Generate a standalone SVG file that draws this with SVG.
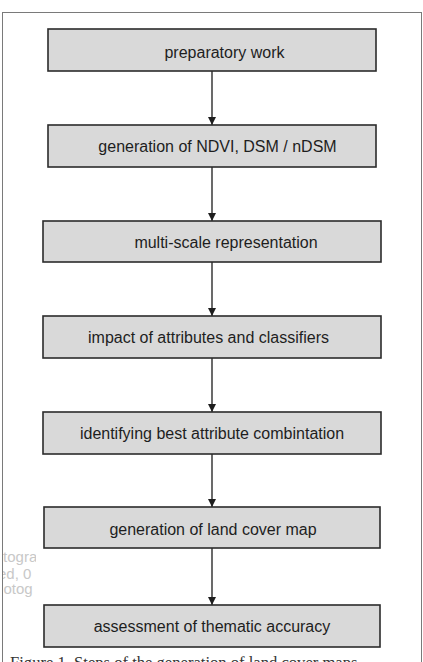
<svg xmlns="http://www.w3.org/2000/svg" width="423" height="662" viewBox="0 0 423 662">
  <style>
    .box { fill: #d9d9d9; stroke: #2b2b2b; stroke-width: 1.6; }
    .lbl { font-family: "Liberation Sans", Arial, sans-serif; font-size: 16px; fill: #1e1e1e; text-anchor: middle; }
    .conn { stroke: #2b2b2b; stroke-width: 1.4; fill: none; marker-end: url(#ah); }
    .wm { font-family: "Liberation Sans", Arial, sans-serif; font-size: 15px; fill: #c8c8c8; }
    .cap { font-family: "Liberation Serif", "Times New Roman", serif; font-size: 16.6px; fill: #333; }
  </style>
  <defs>
    <marker id="ah" viewBox="0 0 10 10" refX="10" refY="5" markerWidth="8" markerHeight="9" markerUnits="userSpaceOnUse" orient="auto">
      <path d="M0,0 L10,5 L0,10 Z" fill="#1e1e1e"/>
    </marker>
    <clipPath id="wmclip"><rect x="2" y="540" width="34" height="70"/></clipPath>
  </defs>
  <rect width="423" height="662" fill="#ffffff"/>

  <g id="watermark" clip-path="url(#wmclip)">
    <text class="wm" x="-5.3" y="562">otogra</text>
    <text class="wm" x="-2" y="579">ed, 0</text>
    <text class="wm" x="3.5" y="594">otog</text>
  </g>

  <rect x="2.5" y="12.5" width="419" height="700" fill="none" stroke="#7a7a7a" stroke-width="1"/>

  <g id="connectors">
    <line class="conn" x1="212" y1="71" x2="212" y2="125"/>
    <line class="conn" x1="212" y1="167" x2="212" y2="221"/>
    <line class="conn" x1="212" y1="262" x2="212" y2="316"/>
    <line class="conn" x1="212" y1="358" x2="212" y2="412"/>
    <line class="conn" x1="212" y1="454" x2="212" y2="507"/>
    <line class="conn" x1="212" y1="548" x2="212" y2="605"/>
  </g>

  <g id="n1"><rect class="box" x="48" y="29" width="328" height="42"/><text class="lbl" x="224.5" y="58">preparatory work</text></g>
  <g id="n2"><rect class="box" x="48" y="125" width="328" height="42"/><text class="lbl" x="217.5" y="152">generation of NDVI, DSM / nDSM</text></g>
  <g id="n3"><rect class="box" x="43" y="221" width="338" height="41"/><text class="lbl" x="226" y="248">multi-scale representation</text></g>
  <g id="n4"><rect class="box" x="43" y="316" width="338" height="42"/><text class="lbl" x="208.5" y="343">impact of attributes and classifiers</text></g>
  <g id="n5"><rect class="box" x="43" y="412" width="338" height="42"/><text class="lbl" x="212" y="439">identifying best attribute combintation</text></g>
  <g id="n6"><rect class="box" x="44" y="507" width="336" height="41"/><text class="lbl" x="213" y="535">generation of land cover map</text></g>
  <g id="n7"><rect class="box" x="44" y="605" width="336" height="42"/><text class="lbl" x="212" y="632">assessment of thematic accuracy</text></g>

  <text class="cap" x="10" y="668">Figure 1. Steps of the generation of land cover maps</text>
</svg>
